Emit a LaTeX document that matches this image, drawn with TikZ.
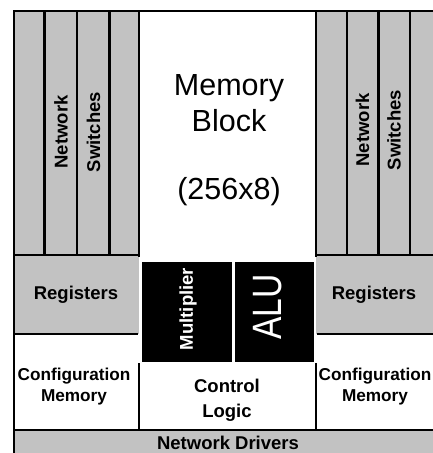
\documentclass[tikz,border=0pt]{standalone}
\usepackage{fontspec}
\setmainfont{Liberation Sans}
\begin{document}
\begin{tikzpicture}[x=1pt,y=-1pt,
  shade/.style={fill=black!24,draw=none},
  wall/.style={line width=2.8pt,line cap=rect},
  col/.style={line width=2.4pt},
  lbl/.style={inner sep=0pt,align=center,font=\fontsize{18.5}{20}\selectfont\bfseries},
  medlbl/.style={inner sep=0pt,align=center,font=\fontsize{17.2}{21}\selectfont\bfseries},
  rotlbl/.style={inner sep=0pt,rotate=90,font=\fontsize{18.5}{20}\selectfont\bfseries}]
\useasboundingbox (0,0) rectangle (433,453);
% shaded regions
\path[shade] (14,11) rectangle (139,334);
\path[shade] (316,11) rectangle (433,334);
\path[shade] (14,430) rectangle (433,453);
% black blocks
\fill[black] (142,262) rectangle (232,362);
\fill[black] (235,262) rectangle (314,362);
% named corner coordinates
\coordinate (tl) at (14,11);
\coordinate (tr) at (433,11);
\coordinate (bl) at (14,453);
% outer frame
\draw[wall] (tr) -- (tl) -- (bl);
% column lines
\draw[col] (44.5,11) -- (44.5,255);
\draw[col] (77,11) -- (77,255);
\draw[col] (109.5,11) -- (109.5,255);
\draw[col] (347,11) -- (347,255);
\draw[col] (378.5,11) -- (378.5,255);
\draw[col] (410,11) -- (410,255);
% memory block borders
\draw[wall] (139,11) -- (139,256);
\draw[wall] (316,11) -- (316,256);
% switch bottoms
\draw[wall] (14,255) -- (139,255);
\draw[wall] (316,255) -- (433,255);
% registers bottoms
\draw[wall] (14,334) -- (137,334);
\draw[wall] (318,334) -- (433,334);
% control logic borders
\draw[wall] (139,364) -- (139,430);
\draw[wall] (316,364) -- (316,430);
% network drivers top
\draw[wall] (14,430) -- (433,430);
% texts
\node[rotlbl] (nl1) at (61,132) {Network};
\node[rotlbl] (sl1) at (93.5,132) {Switches};
\node[rotlbl] (nr1) at (362.5,130) {Network};
\node[rotlbl] (sr1) at (394,130) {Switches};
\node[inner sep=0pt,align=center,font=\fontsize{30.5}{36}\selectfont] (mem) at (229,103) {Memory\\Block};
\node[inner sep=0pt,font=\fontsize{30.5}{36}\selectfont] (sz) at (229,192) {(256x8)};
\node[lbl] (regl) at (76,295) {Registers};
\node[lbl] (regr) at (374,295) {Registers};
\node[rotlbl,text=white] (mul) at (188,309) {Multiplier};
\node[inner sep=0pt,rotate=90,text=white,font=\fontsize{41}{41}\selectfont,xscale=0.82] (alu) at (268,307) {ALU};
\node[medlbl] (cfgl) at (74,387) {Configuration\\Memory};
\node[medlbl] (cfgr) at (375,387) {Configuration\\Memory};
\node[medlbl,font=\fontsize{18.5}{25}\selectfont\bfseries] (ctl) at (227,400) {Control\\Logic};
\node[lbl] (nd) at (228,443) {Network Drivers};
\end{tikzpicture}
\end{document}
